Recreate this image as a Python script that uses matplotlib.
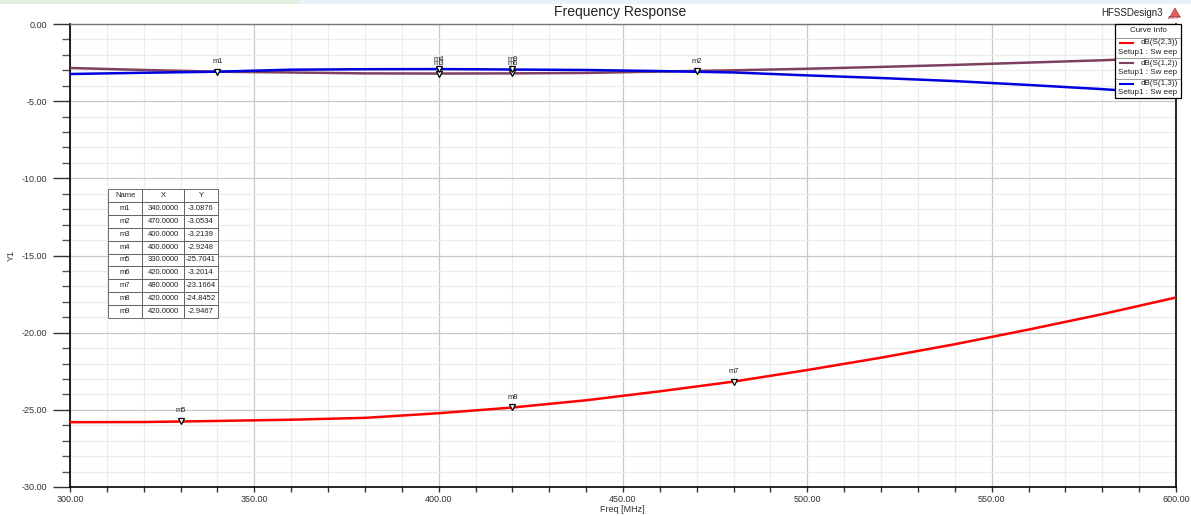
"""
Frequency Response (HFSS style) - S-parameter curves with markers
"""
import matplotlib
matplotlib.use("Agg")
import matplotlib.pyplot as plt
from matplotlib.lines import Line2D
from matplotlib.patches import Rectangle, Polygon

plt.rcParams["font.family"] = ["Liberation Sans", "DejaVu Sans"]

# ---- data ----
freq = [300, 320, 340, 360, 380, 400, 420, 440, 460, 480, 500, 520, 540, 560, 580, 600]
s23 = [-25.80, -25.79, -25.72, -25.64, -25.52, -25.22, -24.85, -24.38, -23.80, -23.17,
       -22.42, -21.62, -20.75, -19.80, -18.80, -17.72]
s12 = [-2.85, -2.98, -3.09, -3.14, -3.20, -3.21, -3.20, -3.17, -3.08, -3.00,
       -2.90, -2.78, -2.65, -2.50, -2.35, -2.15]
s13 = [-3.24, -3.16, -3.09, -2.96, -2.93, -2.92, -2.95, -2.98, -3.05, -3.14,
       -3.33, -3.50, -3.70, -3.95, -4.22, -4.55]

marker_names = ["m1", "m2", "m3", "m4", "m5", "m6", "m7", "m8", "m9"]
marker_x = [340.0, 470.0, 400.0, 400.0, 330.0, 420.0, 480.0, 420.0, 420.0]
marker_y = [-3.0876, -3.0534, -3.2139, -2.9248, -25.7041, -3.2014, -23.1664, -24.8452, -2.9467]

curve_names = ["dB(S(2,3))", "dB(S(1,2))", "dB(S(1,3))"]
curve_colors = ["#ff0000", "#7f3f5f", "#0000e0"]

PT = 0.72  # points per pixel at dpi 100


def fx(px):
    return px / 1191


def fy(py):
    return 1 - py / 516


fig = plt.figure(figsize=(11.91, 5.16), dpi=100)
# faint band along the top edge
fig.patches.append(Rectangle((0, fy(4)), 1, fy(0) - fy(4), transform=fig.transFigure,
                             facecolor="#eaf2f8", edgecolor="none"))
fig.patches.append(Rectangle((0, fy(4)), fx(300), fy(0) - fy(4), transform=fig.transFigure,
                             facecolor="#e2f2e2", edgecolor="none"))

ax = fig.add_axes([fx(70), fy(487), fx(1106), 463 / 516])

for y, c in zip([s12, s13, s23], [curve_colors[1], curve_colors[2], curve_colors[0]]):
    ax.plot(freq, y, color=c, lw=1.8, zorder=3)

ax.set_xlim(300, 600)
ax.set_ylim(-30, 0)
ax.set_xticks(range(300, 601, 50))
ax.set_xticks(range(300, 601, 10), minor=True)
ax.set_yticks(range(-30, 1, 5))
ax.set_yticks(range(-30, 1, 1), minor=True)
ax.set_xticklabels([f"{v:.2f}" for v in range(300, 601, 50)])
ax.set_yticklabels([f"{v:.2f}" for v in range(-30, 1, 5)])
ax.grid(which="major", color="#c8c8c8", lw=0.9)
ax.grid(which="minor", color="#ececec", lw=0.8)
ax.tick_params(axis="x", which="both", direction="out", length=5 * PT, width=1, pad=2,
               labelsize=6.5, colors="#333333")
ax.tick_params(axis="y", which="major", direction="out", length=17 * PT, width=1, pad=6 * PT,
               labelsize=6.5, colors="#333333")
ax.tick_params(axis="y", which="minor", direction="out", length=8 * PT, width=1,
               colors="#555555")
for s in ["left", "bottom", "right"]:
    ax.spines[s].set_color("black")
    ax.spines[s].set_linewidth(1.2)
ax.spines["top"].set_color("#777777")
ax.spines["top"].set_linewidth(1)

ax.set_xlabel("Freq [MHz]", fontsize=6.5, color="#333333", va="center")
ax.xaxis.set_label_coords((622 - 70) / 1106, -(509 - 487) / 463)
ax.set_ylabel("Y1", fontsize=6.5, color="#333333")
ax.yaxis.set_label_coords(-(70 - 16) / 1106, (487 - 255) / 463)
fig.text(fx(620), fy(12), "Frequency Response", ha="center", va="center",
         fontsize=10, color="#222222")
fig.text(fx(1163), fy(13), "HFSSDesign3", ha="right", va="center", fontsize=7,
         color="#222222")
# small logo triangle
fig.patches.append(Polygon([[fx(1170), fy(17)], [fx(1180), fy(17)], [fx(1175), fy(8)]],
                           closed=True, transform=fig.transFigure,
                           facecolor="#e06060", edgecolor="#b03030", lw=0.5))
fig.text(fx(1175), fy(18), "ANSOFT", ha="center", va="center", fontsize=2.5, color="#993333")

# markers (labels of coincident markers overlap, as in the HFSS plot)
for n, x, y in zip(marker_names, marker_x, marker_y):
    ax.plot(x, y, marker="v", ms=4.5, mfc="white", mec="black", mew=0.9, zorder=5)
    ax.annotate(n, (x, y), xytext=(0, 4.5), textcoords="offset points", ha="center",
                va="bottom", fontsize=5.5, color="#222222", zorder=6)

# marker table
rows = [[n, f"{x:.4f}", f"{y:.4f}"] for n, x, y in zip(marker_names, marker_x, marker_y)]
tb = ax.table(cellText=rows, colLabels=["Name", "X", "Y"], cellLoc="center",
              colWidths=[34, 42, 34],
              bbox=[(108 - 70) / 1106, (487 - 318) / 463, 110 / 1106, 129 / 463], zorder=7)
tb.auto_set_font_size(False)
tb.set_fontsize(5.5)
for (r, c), cell in tb.get_celld().items():
    cell.set_edgecolor("#555555")
    cell.set_linewidth(0.6)
    cell.set_facecolor("white")
    cell.get_text().set_color("#222222")

# curve info box
lx0, lx1 = 1115, 1181
fig.patches.append(Rectangle((fx(lx0), fy(98)), fx(lx1) - fx(lx0), fy(24) - fy(98),
                             transform=fig.transFigure, facecolor="white", edgecolor="black",
                             lw=0.9, zorder=10))
fig.text(fx(1148), fy(31), "Curve Info", ha="center", va="center", fontsize=5.8,
         color="#222222", zorder=11)
for i, (name, c) in enumerate(zip(curve_names, curve_colors)):
    top = 38 + i * 20.3
    fig.add_artist(Line2D([fx(lx0 + 1), fx(lx1 - 1)], [fy(top), fy(top)], color="#888888",
                          lw=0.6, transform=fig.transFigure, zorder=11))
    fig.add_artist(Line2D([fx(1120), fx(1133)], [fy(top + 5), fy(top + 5)], color=c,
                          lw=1.5, transform=fig.transFigure, zorder=11))
    fig.text(fx(1178), fy(top + 5), name, ha="right", va="center", fontsize=5.8,
             color="#222222", zorder=11)
    fig.text(fx(1118), fy(top + 14), "Setup1 : Sw eep", ha="left", va="center", fontsize=5.8,
             color="#222222", zorder=11)

fig.savefig("out.png", dpi=100, facecolor="white")
